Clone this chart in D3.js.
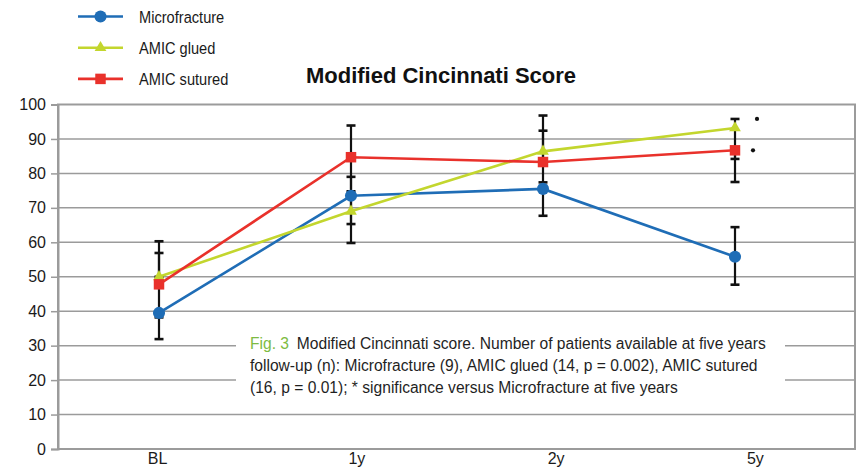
<!DOCTYPE html>
<html>
<head>
<meta charset="utf-8">
<script src="https://cdn.jsdelivr.net/npm/d3@7"></script>
<style>
  html, body { margin: 0; padding: 0; background: #fff; }
  svg { display: block; }
</style>
</head>
<body>
<svg id="chart" width="863" height="475"></svg>
<script>
// ---------- data ----------
const categories = ["BL", "1y", "2y", "5y"];
const yTicks = [0, 10, 20, 30, 40, 50, 60, 70, 80, 90, 100];
const seriesNames = ["Microfracture", "AMIC glued", "AMIC sutured"];

const microfracture = [39.5, 73.5, 75.5, 55.8];
const amicGlued     = [50.0, 69.0, 86.4, 93.2];
const amicSutured   = [47.8, 84.7, 83.3, 86.7];

// error bar ends [low, high] per category
const microErr   = [[31.9, 39.5], [65.3, 73.5], [67.7, 75.5], [47.7, 64.4]];
const gluedErr   = [[50.0, 60.3], [59.8, 79.0], [77.4, 96.8], [84.2, 95.8]];
const suturedErr = [[38.2, 56.9], [74.8, 93.9], [83.3, 92.4], [77.5, 86.7]];

// significance marks at five years
const sigMarks = [
  { series: "AMIC glued", cat: "5y", value: 95.8 },
  { series: "AMIC sutured", cat: "5y", value: 86.7 }
];

const captionLabel = "Fig. 3";
const captionLines = [
  "Modified Cincinnati score. Number of patients available at five years",
  "follow-up (n): Microfracture (9), AMIC glued (14, p = 0.002), AMIC sutured",
  "(16, p = 0.01); * significance versus Microfracture at five years"
];
const title = "Modified Cincinnati Score";

// ---------- layout ----------
const colors = { "Microfracture": "#1f6db6", "AMIC glued": "#c3d62e", "AMIC sutured": "#e9312b" };
const shapes = { "Microfracture": d3.symbolCircle, "AMIC glued": d3.symbolTriangle, "AMIC sutured": d3.symbolSquare };
const symSize = { "Microfracture": 115, "AMIC glued": 60, "AMIC sutured": 110 };

const plot = { left: 58, right: 855, top: 104.5, bottom: 449 };
const svg = d3.select("#chart");

const y = d3.scaleLinear().domain([0, 100]).range([plot.bottom, plot.top]);
const xBand = d3.scaleBand().domain(categories).range([plot.left, plot.right]);
const xPt = d3.scalePoint().domain(categories).range([159, 735]);

const series = [
  { name: seriesNames[0], values: microfracture, err: microErr },
  { name: seriesNames[1], values: amicGlued, err: gluedErr },
  { name: seriesNames[2], values: amicSutured, err: suturedErr }
];

const sans = "'Liberation Sans', Arial, sans-serif";

// gridlines
svg.append("g")
  .selectAll("line")
  .data(yTicks.filter(t => t > 0 && t < 100))
  .join("line")
  .attr("x1", plot.left).attr("x2", plot.right)
  .attr("y1", d => y(d)).attr("y2", d => y(d))
  .attr("stroke", "#9b9b9b").attr("stroke-width", 1.5);

// caption backing box (hides gridlines)
svg.append("rect")
  .attr("x", 236).attr("y", 326).attr("width", 549).attr("height", 72)
  .attr("fill", "#fff");

// plot frame
svg.append("rect")
  .attr("x", plot.left).attr("y", plot.top)
  .attr("width", plot.right - plot.left).attr("height", plot.bottom - plot.top)
  .attr("fill", "none").attr("stroke", "#9b9b9b").attr("stroke-width", 2);

// y axis
const yAxis = svg.append("g")
  .attr("transform", `translate(${plot.left},0)`)
  .call(d3.axisLeft(y).tickValues(yTicks).tickSize(7).tickPadding(5).tickFormat(d3.format("d")));
yAxis.select(".domain").attr("stroke", "#9b9b9b").attr("stroke-width", 2);
yAxis.selectAll(".tick line").attr("stroke", "#9b9b9b").attr("stroke-width", 1.5);
yAxis.selectAll(".tick text")
  .attr("fill", "#1a1a1a").style("font-family", sans).style("font-size", "16px");

// x axis labels
const xAxis = svg.append("g")
  .attr("transform", `translate(0,${plot.bottom})`)
  .call(d3.axisBottom(xBand).tickSize(0).tickPadding(4));
xAxis.select(".domain").remove();
xAxis.selectAll(".tick text")
  .attr("fill", "#1a1a1a").style("font-family", sans).style("font-size", "16px");

// error bars
const capW = 4.5;
series.forEach(s => {
  const g = svg.append("g");
  const data = categories.map((c, i) => ({ c, lo: s.err[i][0], hi: s.err[i][1] }));
  g.selectAll("line.v").data(data).join("line")
    .attr("x1", d => xPt(d.c)).attr("x2", d => xPt(d.c))
    .attr("y1", d => y(d.lo)).attr("y2", d => y(d.hi))
    .attr("stroke", "#111").attr("stroke-width", 2.2);
  const caps = data.flatMap(d => [{ c: d.c, v: d.lo }, { c: d.c, v: d.hi }]);
  g.selectAll("line.cap").data(caps).join("line")
    .attr("x1", d => xPt(d.c) - capW).attr("x2", d => xPt(d.c) + capW)
    .attr("y1", d => y(d.v)).attr("y2", d => y(d.v))
    .attr("stroke", "#111").attr("stroke-width", 2.6);
});

// lines
const line = d3.line().x((d, i) => xPt(categories[i])).y(d => y(d));
series.forEach(s => {
  svg.append("path")
    .datum(s.values)
    .attr("d", line)
    .attr("fill", "none")
    .attr("stroke", colors[s.name])
    .attr("stroke-width", 2.6);
});

// markers
series.forEach(s => {
  svg.append("g").selectAll("path").data(s.values).join("path")
    .attr("transform", (d, i) => `translate(${xPt(categories[i])},${y(d)})`)
    .attr("d", d3.symbol().type(shapes[s.name]).size(symSize[s.name]))
    .attr("fill", colors[s.name]);
});

// significance marks
svg.append("g").selectAll("circle").data(sigMarks).join("circle")
  .attr("cx", d => xPt(d.cat) + (d.series === "AMIC glued" ? 22 : 18))
  .attr("cy", d => y(d.value))
  .attr("r", 2.1)
  .attr("fill", "#111");

// legend
const legend = svg.append("g");
seriesNames.forEach((n, i) => {
  const ly = 16.5 + i * 31.2;
  legend.append("line")
    .attr("x1", 78).attr("x2", 123).attr("y1", ly).attr("y2", ly)
    .attr("stroke", colors[n]).attr("stroke-width", 2.6);
  legend.append("path")
    .attr("transform", `translate(100.5,${ly})`)
    .attr("d", d3.symbol().type(shapes[n]).size(symSize[n]))
    .attr("fill", colors[n]);
  legend.append("text")
    .attr("transform", `translate(139,${ly + 6}) scale(0.86,1)`)
    .style("font-family", sans).style("font-size", "17px")
    .attr("fill", "#1a1a1a")
    .text(n);
});

// title
svg.append("text")
  .attr("x", 441).attr("y", 83)
  .attr("text-anchor", "middle")
  .style("font-family", sans)
  .style("font-weight", "bold").style("font-size", "22px")
  .attr("fill", "#111")
  .text(title);

// caption
const cap = svg.append("g");
captionLines.forEach((t, i) => {
  const tx = cap.append("text")
    .attr("transform", `translate(250,${349 + i * 22}) scale(0.975,1)`)
    .style("font-family", sans).style("font-size", "16px")
    .attr("fill", "#1f1f1f");
  if (i === 0) {
    tx.append("tspan").attr("fill", "#7dbb42").text(captionLabel);
    tx.append("tspan").attr("dx", 8).text(t);
  } else {
    tx.text(t);
  }
});
</script>
</body>
</html>
